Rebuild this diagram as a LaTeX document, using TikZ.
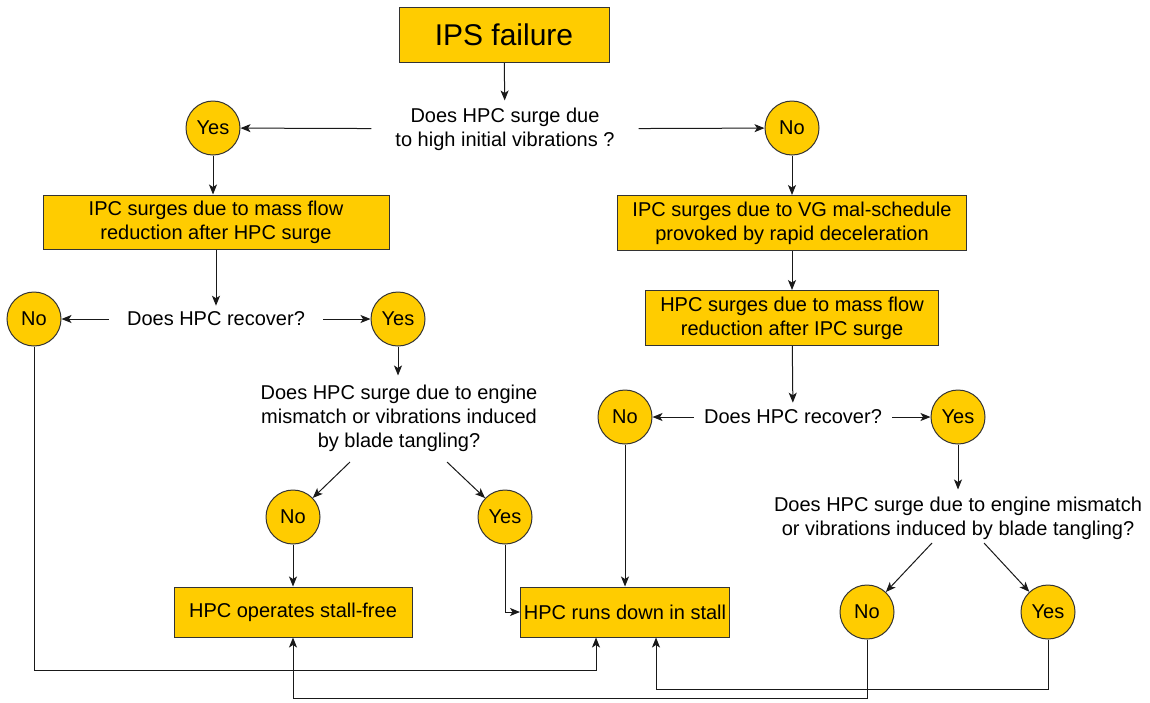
\documentclass[tikz,border=0pt]{standalone}
\usepackage{fontspec}
\setmainfont{Liberation Sans}
\usetikzlibrary{arrows.meta}
\definecolor{gold}{HTML}{FFCC00}
\definecolor{edge}{HTML}{333333}
\begin{document}
\begin{tikzpicture}[x=1pt,y=-1pt,
  every node/.style={font=\fontsize{20}{24}\selectfont},
  box/.style={draw=edge, fill=gold, line width=1pt, align=center, inner sep=0pt},
  circ/.style={circle, draw=edge, fill=gold, line width=1pt, minimum size=54pt, inner sep=0pt},
  ques/.style={align=center, inner xsep=10pt, inner ysep=6pt},
  arr/.style={draw=black!90, line width=1pt, -{Stealth[length=10pt,width=8pt,inset=2.5pt]}},
]
\useasboundingbox[fill=white] (0,0) rectangle (1150,702);

% top of the tree
\node[box, minimum width=210pt, minimum height=55pt, font=\fontsize{30}{36}\selectfont] (ips) at (504,35) {IPS failure};
\node[ques, inner xsep=24pt, inner ysep=7pt] (q1) at (505,129) {Does HPC surge due\\to high initial vibrations ?};
\node[circ] (yes1) at (213,128) {Yes};
\node[circ] (no1) at (792,128) {No};

% left branch
\node[box, minimum width=346pt, minimum height=54pt] (ipc1) at (216,222) {IPC surges due to mass flow\\reduction after HPC surge};
\node[ques, inner xsep=18pt, inner ysep=6pt] (q2) at (216,319) {Does HPC recover?};
\node[circ] (no2) at (34,319) {No};
\node[circ] (yes2) at (398,319) {Yes};
\node[ques, inner ysep=9pt] (q3) at (399,418) {Does HPC surge due to engine\\mismatch or vibrations induced\\by blade tangling?};
\coordinate (q3l) at (350,462);
\coordinate (q3r) at (447,462);
\node[circ] (no3) at (293,517) {No};
\node[circ] (yes3) at (505,517) {Yes};

% right branch
\node[box, minimum width=349pt, minimum height=55pt] (ipc2) at (792,223) {IPC surges due to VG mal-schedule\\provoked by rapid deceleration};
\node[box, minimum width=293pt, minimum height=55pt] (hpc2) at (792,318) {HPC surges due to mass flow\\reduction after IPC surge};
\node[ques, inner xsep=10pt, inner ysep=7pt] (q4) at (793,417) {Does HPC recover?};
\node[circ] (no4) at (625,417) {No};
\node[circ] (yes4) at (958,417) {Yes};
\node[ques, inner ysep=7pt] (q5) at (958,518) {Does HPC surge due to engine mismatch\\or vibrations induced by blade tangling?};
\coordinate (q5l) at (932,543);
\coordinate (q5r) at (984,543);
\node[circ] (no5) at (867,612) {No};
\node[circ] (yes5) at (1048,612) {Yes};

% outcomes
\node[box, minimum width=238pt, minimum height=50pt] (free) at (293,612) {HPC operates stall-free};
\node[box, minimum width=209pt, minimum height=50pt] (runs) at (625,612) {HPC runs down in stall};

% levels of the return lines along the bottom
\coordinate (bus1) at (0,670);
\coordinate (bus2) at (0,689);
\coordinate (bus3) at (0,698);

% connectors
\draw[arr] (ips) -- (q1);
\draw[arr] (q1) -- (yes1);
\draw[arr] (q1) -- (no1);
\draw[arr] (yes1.south) -- (yes1 |- ipc1.north);
\draw[arr] (no1.south) -- (no1 |- ipc2.north);
\draw[arr] (ipc1) -- (q2);
\draw[arr] (q2) -- (no2);
\draw[arr] (q2) -- (yes2);
\draw[arr] (yes2.south) -- (yes2 |- q3.north);
\draw[arr] (q3l) -- (no3);
\draw[arr] (q3r) -- (yes3);
\draw[arr] (no3) -- (free);
\draw[arr] (yes3.south) |- (runs.west);
\draw[arr] (no2.south) -- (no2 |- bus1) -| ([xshift=-29pt]runs.south);
\draw[arr] (ipc2) -- (hpc2);
\draw[arr] (hpc2) -- (q4);
\draw[arr] (q4) -- (no4);
\draw[arr] (q4) -- (yes4);
\draw[arr] (no4.south) -- (no4 |- runs.north);
\draw[arr] (yes4.south) -- (yes4 |- q5.north);
\draw[arr] (q5l) -- (no5);
\draw[arr] (q5r) -- (yes5);
\draw[arr] (yes5.south) -- (yes5 |- bus2) -| ([xshift=31pt]runs.south);
\draw[arr] (no5.south) -- (no5 |- bus3) -| (free.south);
\end{tikzpicture}
\end{document}
